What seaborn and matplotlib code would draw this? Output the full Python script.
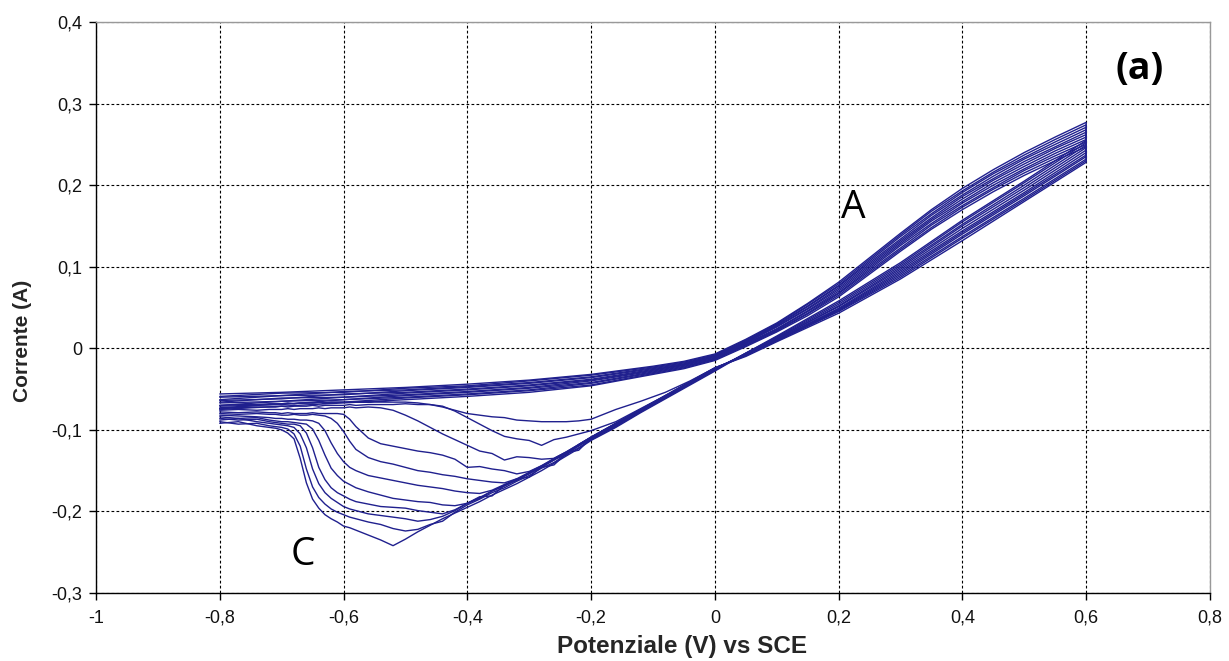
import numpy as np
import pandas as pd
import matplotlib
matplotlib.use("Agg")
import matplotlib.pyplot as plt
from matplotlib.ticker import FuncFormatter
import seaborn as sns

# ---------------- data ----------------
# potential grid of the forward (cathodic -> anodic) sweep, V vs SCE
fwd_potential = [-0.80, -0.77, -0.74, -0.72, -0.71, -0.70, -0.69, -0.68, -0.67, -0.66, -0.65, -0.64, -0.63, -0.62, -0.61, -0.60, -0.59, -0.58,
                 -0.56, -0.54, -0.52, -0.50, -0.48, -0.46, -0.44, -0.42, -0.40, -0.38, -0.36, -0.34, -0.32, -0.30, -0.28, -0.26, -0.24, -0.22, -0.20,
                 -0.16, -0.12, -0.08, -0.04, 0.00, 0.05, 0.10, 0.20, 0.30, 0.40, 0.50, 0.60]
# potential grid of the reverse sweep
rev_potential = [0.60, 0.55, 0.50, 0.45, 0.40, 0.35, 0.30, 0.25, 0.20, 0.15, 0.10, 0.05, 0.00, -0.05, -0.10,
                 -0.20, -0.30, -0.40, -0.50, -0.60, -0.70, -0.80]

# forward-sweep currents (A), one list per cycle
fwd_c01 = [-0.092, -0.090, -0.095, -0.097, -0.098, -0.100, -0.104, -0.111, -0.135, -0.165, -0.185, -0.196, -0.204, -0.209, -0.213, -0.218, -0.220, -0.223,
           -0.229, -0.235, -0.242, -0.234, -0.225, -0.217, -0.209, -0.202, -0.195, -0.188, -0.180, -0.173, -0.166, -0.158, -0.150, -0.141, -0.132, -0.123, -0.113,
           -0.097, -0.079, -0.062, -0.045, -0.028, -0.006, 0.015, 0.058, 0.105, 0.157, 0.205, 0.255]
fwd_c02 = [-0.090, -0.093, -0.092, -0.095, -0.096, -0.097, -0.099, -0.105, -0.120, -0.148, -0.170, -0.183, -0.191, -0.197, -0.201, -0.204, -0.207, -0.209,
           -0.213, -0.216, -0.221, -0.224, -0.222, -0.216, -0.212, -0.201, -0.192, -0.185, -0.177, -0.171, -0.163, -0.156, -0.147, -0.140, -0.130, -0.122, -0.112,
           -0.096, -0.078, -0.061, -0.044, -0.027, -0.006, 0.014, 0.056, 0.103, 0.155, 0.203, 0.252]
fwd_c03 = [-0.088, -0.086, -0.090, -0.092, -0.093, -0.094, -0.095, -0.097, -0.105, -0.122, -0.148, -0.166, -0.177, -0.184, -0.189, -0.194, -0.197, -0.199,
           -0.203, -0.205, -0.207, -0.209, -0.212, -0.210, -0.206, -0.199, -0.190, -0.184, -0.175, -0.168, -0.162, -0.153, -0.146, -0.143, -0.129, -0.120, -0.111,
           -0.095, -0.077, -0.061, -0.043, -0.026, -0.006, 0.013, 0.054, 0.101, 0.152, 0.200, 0.249]
fwd_c04 = [-0.086, -0.088, -0.087, -0.090, -0.091, -0.092, -0.093, -0.093, -0.095, -0.104, -0.122, -0.146, -0.161, -0.171, -0.177, -0.181, -0.185, -0.188,
           -0.191, -0.194, -0.195, -0.196, -0.199, -0.201, -0.203, -0.198, -0.190, -0.182, -0.181, -0.168, -0.161, -0.154, -0.145, -0.137, -0.128, -0.119, -0.110,
           -0.094, -0.077, -0.060, -0.043, -0.026, -0.007, 0.012, 0.052, 0.099, 0.150, 0.197, 0.246]
fwd_c05 = [-0.084, -0.086, -0.085, -0.088, -0.089, -0.090, -0.090, -0.091, -0.092, -0.093, -0.099, -0.113, -0.131, -0.147, -0.156, -0.163, -0.167, -0.171,
           -0.176, -0.180, -0.184, -0.186, -0.188, -0.189, -0.192, -0.193, -0.190, -0.183, -0.175, -0.169, -0.161, -0.153, -0.146, -0.137, -0.128, -0.125, -0.110,
           -0.093, -0.076, -0.060, -0.042, -0.025, -0.007, 0.012, 0.051, 0.097, 0.147, 0.194, 0.243]
fwd_c06 = [-0.082, -0.083, -0.084, -0.085, -0.086, -0.086, -0.087, -0.087, -0.088, -0.088, -0.089, -0.092, -0.101, -0.116, -0.129, -0.139, -0.146, -0.150,
           -0.156, -0.159, -0.162, -0.165, -0.168, -0.170, -0.172, -0.175, -0.177, -0.178, -0.174, -0.167, -0.160, -0.158, -0.145, -0.136, -0.128, -0.119, -0.109,
           -0.093, -0.076, -0.059, -0.042, -0.025, -0.008, 0.011, 0.049, 0.095, 0.144, 0.191, 0.240]
fwd_c07 = [-0.080, -0.081, -0.080, -0.081, -0.081, -0.082, -0.082, -0.081, -0.082, -0.082, -0.081, -0.082, -0.083, -0.086, -0.092, -0.102, -0.114, -0.124,
           -0.134, -0.139, -0.142, -0.146, -0.150, -0.152, -0.155, -0.157, -0.160, -0.162, -0.164, -0.165, -0.160, -0.152, -0.144, -0.136, -0.131, -0.118, -0.109,
           -0.092, -0.075, -0.059, -0.042, -0.025, -0.008, 0.010, 0.048, 0.093, 0.142, 0.189, 0.237]
fwd_c08 = [-0.078, -0.079, -0.078, -0.079, -0.079, -0.080, -0.079, -0.080, -0.080, -0.080, -0.079, -0.080, -0.080, -0.080, -0.080, -0.081, -0.087, -0.096,
           -0.110, -0.117, -0.120, -0.123, -0.126, -0.128, -0.131, -0.136, -0.146, -0.145, -0.148, -0.150, -0.154, -0.151, -0.144, -0.135, -0.127, -0.118, -0.109,
           -0.092, -0.075, -0.058, -0.041, -0.025, -0.008, 0.010, 0.047, 0.091, 0.140, 0.187, 0.235]
fwd_c09 = [-0.076, -0.075, -0.076, -0.075, -0.075, -0.075, -0.074, -0.075, -0.074, -0.074, -0.074, -0.073, -0.074, -0.073, -0.073, -0.073, -0.072, -0.073,
           -0.072, -0.073, -0.076, -0.082, -0.089, -0.097, -0.105, -0.112, -0.119, -0.126, -0.129, -0.137, -0.133, -0.134, -0.136, -0.135, -0.127, -0.118, -0.109,
           -0.092, -0.075, -0.058, -0.041, -0.024, -0.009, 0.009, 0.046, 0.089, 0.137, 0.184, 0.232]
fwd_c10 = [-0.074, -0.073, -0.072, -0.072, -0.072, -0.071, -0.072, -0.071, -0.071, -0.071, -0.070, -0.071, -0.070, -0.070, -0.070, -0.070, -0.069, -0.070,
           -0.069, -0.069, -0.069, -0.068, -0.069, -0.069, -0.071, -0.077, -0.085, -0.093, -0.101, -0.108, -0.111, -0.113, -0.119, -0.112, -0.109, -0.105, -0.101,
           -0.090, -0.074, -0.058, -0.041, -0.024, -0.009, 0.009, 0.045, 0.087, 0.135, 0.182, 0.230]
fwd_c11 = [-0.070, -0.069, -0.069, -0.068, -0.068, -0.068, -0.067, -0.068, -0.067, -0.067, -0.067, -0.066, -0.067, -0.066, -0.066, -0.066, -0.066, -0.066,
           -0.066, -0.066, -0.066, -0.066, -0.067, -0.069, -0.072, -0.076, -0.080, -0.082, -0.084, -0.085, -0.088, -0.089, -0.090, -0.090, -0.090, -0.089, -0.087,
           -0.075, -0.065, -0.054, -0.040, -0.024, -0.010, 0.008, 0.043, 0.085, 0.132, 0.180, 0.228]

# reverse-sweep currents (A), one list per cycle
rev_c01 = [0.277, 0.259, 0.240, 0.219, 0.196, 0.170, 0.141, 0.111, 0.081, 0.055, 0.031, 0.011, -0.007, -0.016, -0.022, -0.032, -0.039, -0.044, -0.048, -0.051, -0.054, -0.056]
rev_c02 = [0.274, 0.256, 0.237, 0.216, 0.193, 0.168, 0.139, 0.109, 0.079, 0.054, 0.030, 0.010, -0.008, -0.017, -0.023, -0.033, -0.040, -0.046, -0.049, -0.054, -0.055, -0.059]
rev_c03 = [0.271, 0.253, 0.234, 0.214, 0.191, 0.165, 0.137, 0.107, 0.077, 0.052, 0.029, 0.009, -0.009, -0.018, -0.024, -0.035, -0.042, -0.047, -0.051, -0.053, -0.058, -0.060]
rev_c04 = [0.268, 0.250, 0.232, 0.211, 0.188, 0.163, 0.134, 0.105, 0.076, 0.051, 0.028, 0.008, -0.009, -0.019, -0.025, -0.036, -0.043, -0.048, -0.052, -0.057, -0.058, -0.063]
rev_c05 = [0.265, 0.247, 0.229, 0.208, 0.186, 0.160, 0.132, 0.103, 0.074, 0.049, 0.027, 0.007, -0.010, -0.020, -0.026, -0.038, -0.045, -0.050, -0.054, -0.056, -0.062, -0.064]
rev_c06 = [0.262, 0.245, 0.226, 0.206, 0.183, 0.158, 0.130, 0.101, 0.072, 0.048, 0.026, 0.007, -0.011, -0.020, -0.027, -0.039, -0.046, -0.051, -0.055, -0.060, -0.061, -0.066]
rev_c07 = [0.259, 0.242, 0.223, 0.203, 0.180, 0.156, 0.128, 0.099, 0.070, 0.046, 0.024, 0.006, -0.012, -0.021, -0.028, -0.040, -0.048, -0.053, -0.057, -0.060, -0.065, -0.067]
rev_c08 = [0.256, 0.239, 0.220, 0.200, 0.178, 0.153, 0.126, 0.097, 0.068, 0.045, 0.023, 0.005, -0.013, -0.022, -0.029, -0.042, -0.049, -0.054, -0.058, -0.063, -0.065, -0.070]
rev_c09 = [0.253, 0.236, 0.218, 0.197, 0.175, 0.151, 0.123, 0.095, 0.067, 0.043, 0.022, 0.004, -0.013, -0.023, -0.030, -0.043, -0.051, -0.056, -0.060, -0.063, -0.069, -0.071]
rev_c10 = [0.250, 0.233, 0.215, 0.195, 0.173, 0.148, 0.121, 0.093, 0.065, 0.042, 0.021, 0.003, -0.014, -0.024, -0.031, -0.045, -0.052, -0.057, -0.061, -0.066, -0.068, -0.073]
rev_c11 = [0.247, 0.230, 0.212, 0.192, 0.170, 0.146, 0.119, 0.091, 0.063, 0.040, 0.020, 0.002, -0.015, -0.025, -0.032, -0.046, -0.054, -0.059, -0.063, -0.067, -0.071, -0.075]

fwd_sweeps = [fwd_c01, fwd_c02, fwd_c03, fwd_c04, fwd_c05, fwd_c06, fwd_c07, fwd_c08, fwd_c09, fwd_c10, fwd_c11]
rev_sweeps = [rev_c01, rev_c02, rev_c03, rev_c04, rev_c05, rev_c06, rev_c07, rev_c08, rev_c09, rev_c10, rev_c11]

x_ticks = [-1.0, -0.8, -0.6, -0.4, -0.2, 0.0, 0.2, 0.4, 0.6, 0.8]
y_ticks = [-0.3, -0.2, -0.1, 0.0, 0.1, 0.2, 0.3, 0.4]

rows = []
for k, (fw, rv) in enumerate(zip(fwd_sweeps, rev_sweeps)):
    pts = list(zip(fwd_potential, fw)) + list(zip(rev_potential, rv))
    for i, (e, c) in enumerate(pts):
        rows.append({"cycle": k + 1, "order": i, "E": e, "I": c})
df = pd.DataFrame(rows)

# ---------------- style ----------------
sns.set_style("white")
plt.rcParams["font.family"] = ["Liberation Sans", "DejaVu Sans"]

NAVY = "#20208e"

fig = plt.figure(figsize=(12.29, 6.61), dpi=100)
ax = fig.add_axes([0.0781, 0.1029, 0.9064, 0.8638])

sns.lineplot(data=df, x="E", y="I", units="cycle", estimator=None, sort=False,
             color=NAVY, linewidth=1.0, legend=False, ax=ax)

ax.set_xlim(-1.0, 0.8)
ax.set_ylim(-0.3, 0.4)
ax.set_xticks(x_ticks)
ax.set_yticks(y_ticks)

def comma_fmt(v, pos):
    v = round(v, 2)
    if abs(v) < 1e-9:
        return "0"
    return f"{v:g}".replace(".", ",")

ax.xaxis.set_major_formatter(FuncFormatter(comma_fmt))
ax.yaxis.set_major_formatter(FuncFormatter(comma_fmt))

ax.grid(True, color="black", linestyle=(0, (2.5, 2)), linewidth=0.8)
ax.set_axisbelow(True)

for side in ["left", "bottom"]:
    ax.spines[side].set_color("black")
    ax.spines[side].set_linewidth(1.0)
for side in ["top", "right"]:
    ax.spines[side].set_color("#999999")
    ax.spines[side].set_linewidth(1.0)

ax.tick_params(axis="both", which="major", direction="out", length=5, width=1,
               color="black", labelsize=13, labelcolor="#111111")
ax.tick_params(axis="x", pad=7)
ax.tick_params(axis="y", pad=5)
ax.tick_params(left=True, bottom=True)

ax.set_xlabel("Potenziale (V) vs SCE", fontsize=17.5, fontweight="bold")
ax.set_ylabel("Corrente (A)", fontsize=15, fontweight="bold")
ax.xaxis.label.set_va("center")
ax.yaxis.label.set_va("center")
ax.xaxis.set_label_coords(0.526, -0.094)
ax.yaxis.set_label_coords(-0.066, 0.441)

ax.text(0.224, 0.172, "A", fontsize=28, ha="center", va="center",
        family=["Open Sans", "DejaVu Sans"], color="black")
ax.text(-0.665, -0.254, "C", fontsize=28, ha="center", va="center",
        family=["Open Sans", "DejaVu Sans"], color="black")
ax.text(0.687, 0.343, "(a)", fontsize=27, fontweight="bold", ha="center", va="center",
        family=["Open Sans", "DejaVu Sans"], color="black")

fig.savefig("out.png", dpi=100)
